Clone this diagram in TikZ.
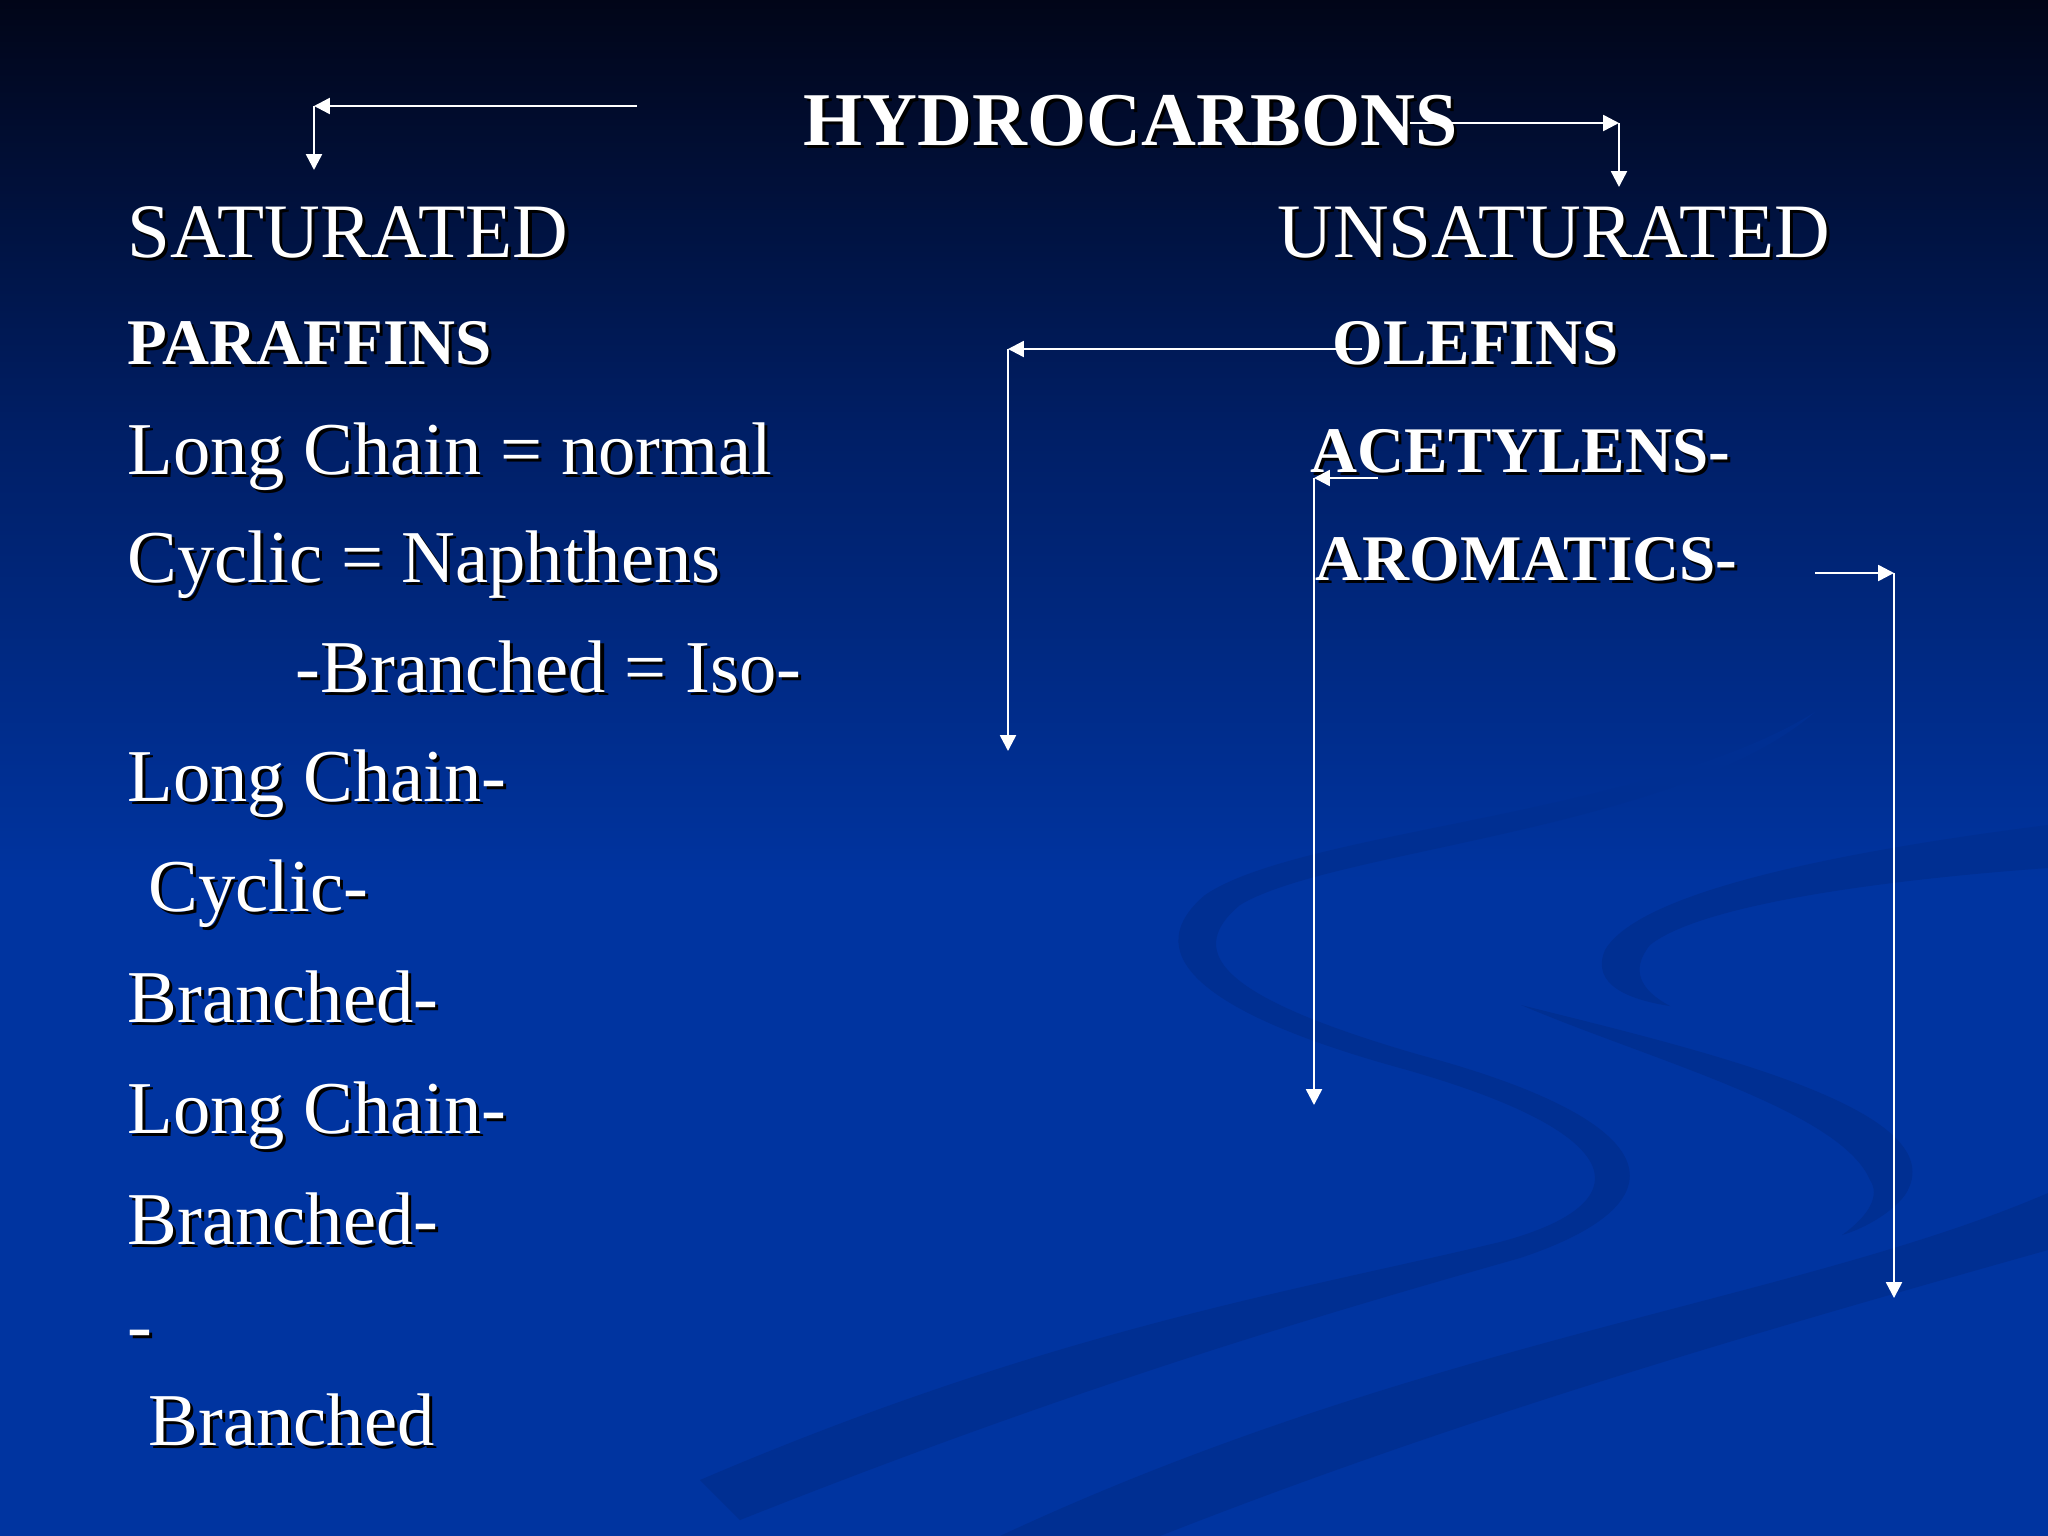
\documentclass[tikz,border=0pt]{standalone}
\usepackage{fontspec}
\setmainfont{Liberation Serif}
\usetikzlibrary{arrows.meta}

\definecolor{bgtop}{RGB}{1,5,24}
\definecolor{bgmid}{RGB}{0,30,100}
\definecolor{bgblue}{RGB}{0,52,160}
\definecolor{swoosh}{RGB}{0,47,146}

% text with a small black drop shadow
\newcommand{\shd}[1]{\makebox[0pt][l]{\hspace*{0.9pt}\raisebox{-0.9pt}{\color{black}#1}}#1}

\tikzset{
  reg/.style={text=white, inner sep=0pt, anchor=base west, font=\fontsize{21.2}{24}\selectfont},
  caps/.style={reg, font=\fontsize{21.9}{25}\selectfont},
  bld/.style={reg, font=\fontsize{18.5}{22}\selectfont\bfseries},
  ttl/.style={reg, font=\fontsize{21.6}{25}\selectfont\bfseries},
  conn/.style={white, line width=0.7pt, -{Triangle[length=4.5pt,width=4.5pt]}}
}

\begin{document}
\begin{tikzpicture}[x=0.01cm,y=-0.01cm]
\useasboundingbox (0,0) rectangle (2048,1536);

% background
\fill[bgblue] (0,0) rectangle (2048,1536);
\shade[top color=bgtop, bottom color=bgmid] (0,0) rectangle (2048,420);
\shade[top color=bgmid, bottom color=bgblue] (0,419) rectangle (2048,880);

\fill[swoosh] (1815,712) .. controls (1650,815) and (1300,830) .. (1205,895)
  .. controls (1140,950) and (1190,1010) .. (1400,1068)
  .. controls (1640,1135) and (1640,1205) .. (1500,1242)
  .. controls (1300,1290) and (1050,1330) .. (700,1480)
  -- (740,1520) .. controls (1080,1385) and (1320,1315) .. (1520,1258)
  .. controls (1680,1205) and (1680,1125) .. (1420,1055)
  .. controls (1230,1000) and (1180,955) .. (1240,905)
  .. controls (1330,850) and (1680,830) .. cycle;
\fill[swoosh] (2048,825) .. controls (1850,850) and (1640,890) .. (1605,950)
  .. controls (1590,985) and (1630,1000) .. (1670,1006)
  .. controls (1640,990) and (1630,970) .. (1650,945)
  .. controls (1700,905) and (1880,880) .. (2048,868) -- cycle;
\fill[swoosh] (1521,1005) .. controls (1700,1050) and (1960,1110) .. (1905,1195)
  .. controls (1890,1215) and (1860,1230) .. (1842,1235)
  .. controls (1870,1215) and (1880,1195) .. (1870,1180)
  .. controls (1840,1110) and (1650,1060) .. cycle;
\fill[swoosh] (2048,1193) .. controls (1800,1300) and (1420,1340) .. (1000,1536)
  -- (1160,1536) .. controls (1480,1410) and (1800,1320) .. (2048,1250) -- cycle;

% texts
\node[ttl] (hc) at (803,145) {\shd{HYDROCARBONS}};
\node[caps] (sat) at (127,257) {\shd{SATURATED}};
\node[caps] (unsat) at (1277,257) {\shd{UNSATURATED}};
\node[bld] (paraf) at (127,364) {\shd{PARAFFINS}};
\node[bld] (olef) at (1332,364) {\shd{OLEFINS}};
\node[reg] (lcn) at (127,474) {\shd{Long Chain = normal}};
\node[bld] (acet) at (1310,472) {\shd{ACETYLENS-}};
\node[reg] (cyn) at (127,582) {\shd{Cyclic = Naphthens}};
\node[bld] (arom) at (1315,580) {\shd{AROMATICS-}};
\node[reg] (bri) at (295,692) {\shd{-Branched = Iso-}};
\node[reg] (lc1) at (127,801) {\shd{Long Chain-}};
\node[reg] (cy1) at (148,911) {\shd{Cyclic-}};
\node[reg] (br1) at (127,1022) {\shd{Branched-}};
\node[reg] (lc2) at (127,1133) {\shd{Long Chain-}};
\node[reg] (br2) at (127,1244) {\shd{Branched-}};
\node[reg] (dsh) at (127,1350) {\shd{-}};
\node[reg] (br3) at (148,1445) {\shd{Branched}};

% arrows
\coordinate (satS) at (637,106);
\coordinate (satK) at (314,106);
\coordinate (satE) at (314,170);
\coordinate (unsS) at (1410,123);
\coordinate (unsK) at (1619,123);
\coordinate (unsE) at (1619,187);
\coordinate (oleS) at (1362,349);
\coordinate (oleK) at (1008,349);
\coordinate (oleE) at (1008,751);
\coordinate (aceS) at (1378,478);
\coordinate (aceK) at (1314,478);
\coordinate (aceE) at (1314,1105);
\coordinate (aroS) at (1815,573);
\coordinate (aroK) at (1894,573);
\coordinate (aroE) at (1894,1298);

\draw[conn] (satS) -- (satK);
\draw[conn] (satK) -- (satE);
\draw[conn] (unsS) -- (unsK);
\draw[conn] (unsK) -- (unsE);
\draw[conn] (oleS) -- (oleK);
\draw[conn] (oleK) -- (oleE);
\draw[conn] (aceS) -- (aceK);
\draw[conn] (aceK) -- (aceE);
\draw[conn] (aroS) -- (aroK);
\draw[conn] (aroK) -- (aroE);
\end{tikzpicture}
\end{document}
